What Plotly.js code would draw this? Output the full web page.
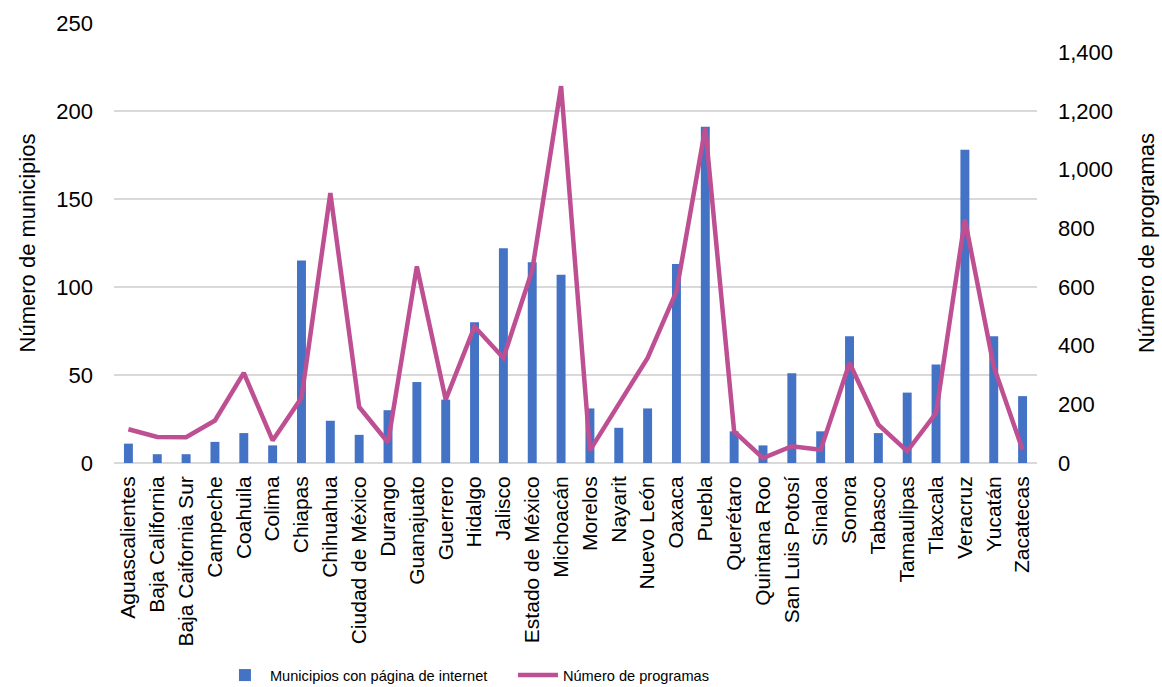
<!DOCTYPE html>
<html>
<head>
<meta charset="utf-8">
<script src="https://cdn.plot.ly/plotly-3.0.1.min.js"></script>
<style>html,body{margin:0;padding:0;background:#fff;}#chart{width:1162px;height:687px;}</style>
</head>
<body>
<div id="chart"></div>
<script>
const estados = ["Aguascalientes","Baja California","Baja Caifornia Sur","Campeche","Coahuila","Colima","Chiapas","Chihuahua","Ciudad de México","Durango","Guanajuato","Guerrero","Hidalgo","Jalisco","Estado de México","Michoacán","Morelos","Nayarit","Nuevo León","Oaxaca","Puebla","Querétaro","Quintana Roo","San Luis Potosí","Sinaloa","Sonora","Tabasco","Tamaulipas","Tlaxcala","Veracruz","Yucatán","Zacatecas"];
const municipiosConPagina = [11,5,5,12,17,10,115,24,16,30,46,36,80,122,114,107,31,20,31,113,191,18,10,51,18,72,17,40,56,178,72,38];
const numeroProgramas = [115,89,88,145,307,77,222,920,191,70,670,216,465,358,657,1285,43,199,358,585,1142,108,17,57,45,341,131,40,170,830,329,45];

const font = "Liberation Sans, Arial, sans-serif";
const traces = [
  {type:'bar', x:estados, y:municipiosConPagina, name:'Municipios con página de internet',
   marker:{color:'#4472C4'}, yaxis:'y'},
  {type:'scatter', mode:'lines', x:estados, y:numeroProgramas, name:'Número de programas',
   line:{color:'#BE4F92', width:4.5}, yaxis:'y2'}
];
const layout = {
  width:1162, height:687,
  margin:{l:114, r:125, t:23, b:224, autoexpand:false},
  paper_bgcolor:'#fff', plot_bgcolor:'#fff',
  font:{family:font, size:22, color:'#000'},
  bargap:0.69,
  showlegend:true,
  legend:{orientation:'h', x:0.1148, xanchor:'left', y:-0.482, yanchor:'middle',
          font:{family:font, size:14.6, color:'#000'},
          entrywidth:238, entrywidthmode:'pixels', itemwidth:40, tracegroupgap:0},
  xaxis:{type:'category', tickangle:-90, showgrid:false, showline:false, ticks:'',
         tickfont:{size:21}, ticklabelstandoff:8, automargin:false},
  yaxis:{range:[0,250], dtick:50, showgrid:true, gridcolor:'#D9D9D9', gridwidth:1.2,
         zeroline:true, zerolinecolor:'#D9D9D9', zerolinewidth:1.2, showline:false, ticks:'',
         ticklabelstandoff:20, tickfont:{size:22},
         title:{text:'Número de municipios', font:{size:22}, standoff:14}, automargin:false},
  yaxis2:{range:[0,1500], tickvals:[0,200,400,600,800,1000,1200,1400], tickformat:',',
          overlaying:'y', side:'right', showgrid:false, zeroline:false, showline:false, ticks:'',
          ticklabelstandoff:20, tickfont:{size:22},
          title:{text:'Número de programas', font:{size:22}, standoff:26}, automargin:false}
};
Plotly.newPlot('chart', traces, layout, {displayModeBar:false, staticPlot:true});
</script>
</body>
</html>
